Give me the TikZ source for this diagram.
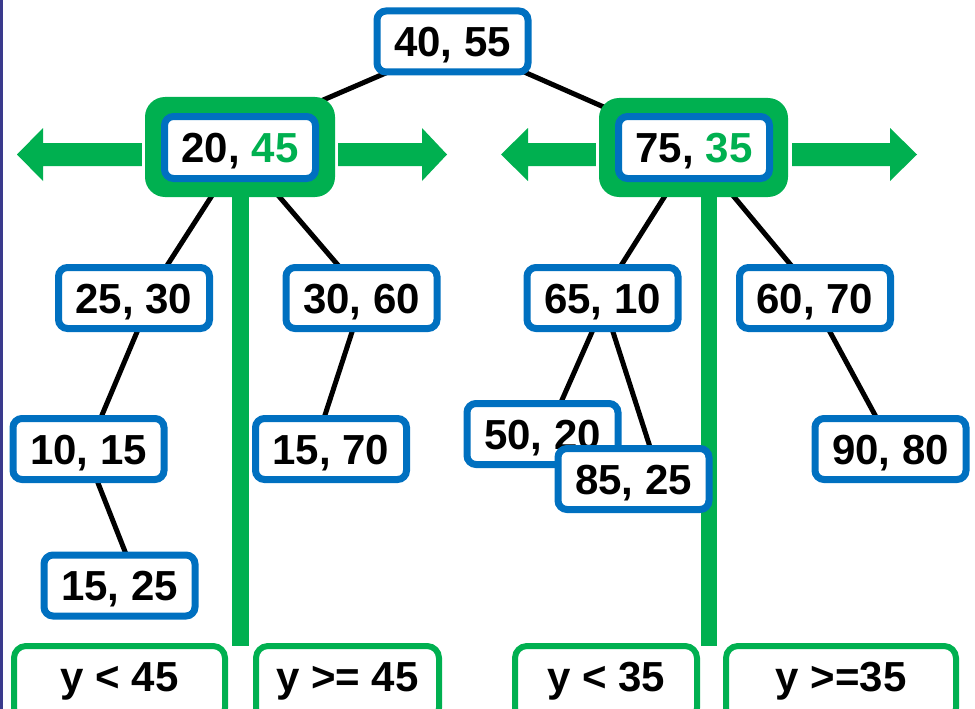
\documentclass[tikz,border=0pt]{standalone}
\usepackage{fontspec}
\setmainfont{Liberation Sans}
\usetikzlibrary{calc}
\definecolor{kgreen}{HTML}{00B050}
\definecolor{kblue}{HTML}{0070C0}
\definecolor{kpurple}{HTML}{3A3A8C}
\pgfdeclarelayer{bg}
\pgfdeclarelayer{mid}
\pgfsetlayers{bg,mid,main}
\begin{document}
\begin{tikzpicture}[x=1pt,y=-1pt,
  kd/.style={draw=kblue, line width=7pt, fill=white, rounded corners=9pt,
    minimum width=151pt, minimum height=61pt, inner sep=0pt,
    font=\fontsize{42}{50}\selectfont\bfseries, text height=30pt, text depth=0pt},
  gbox/.style={fill=kgreen, rounded corners=20pt, inner sep=0pt},
  bl/.style={draw=kgreen, line width=6pt, fill=white, rounded corners=12pt,
    minimum height=74pt, inner sep=0pt,
    font=\fontsize{42}{50}\selectfont\bfseries, text height=30pt, text depth=13pt},
  edge/.style={draw=black, line width=5pt, shorten <=-8pt, shorten >=-8pt},
  garrow/.style={fill=kgreen}]
\useasboundingbox (0,0) rectangle (975,709);
\clip (0,0) rectangle (975,709);
\fill[kpurple] (0,0) rectangle (3,709);

% green split boxes
\node[gbox, minimum width=190pt, minimum height=100pt] (g1) at (240,147) {};
\node[gbox, minimum width=189pt, minimum height=99pt] (g2) at (693.5,147.5) {};

% tree nodes
\node[kd] (root) at (452.5,41.5) {40, 55};
\node[kd, minimum height=62pt] (n2045) at (240,147.5) {20, \textcolor{kgreen}{45}};
\node[kd, minimum height=62pt] (n7535) at (694,147.5) {75, \textcolor{kgreen}{35}};
\node[kd] (n2530) at (134,298) {25, 30};
\node[kd] (n3060) at (361.5,298) {30, 60};
\node[kd] (n6510) at (602.5,298) {65, 10};
\node[kd] (n6070) at (815,298) {60, 70};
\node[kd] (n1015) at (88.5,449) {10, 15};
\node[kd] (n1570) at (331,449) {15, 70};
\node[kd] (n9080) at (890.5,449) {90, 80};
\node[kd] (n5020) at (542.5,434) {50, 20};
\node[kd] (n8525) at (633.5,479) {85, 25};
\node[kd] (n1525) at (119.5,585.5) {15, 25};

% bottom labels
\node[bl, minimum width=211pt] (b1) at (119.5,683) {y < 45};
\node[bl, minimum width=183pt] (b2) at (347.5,683) {y >= 45};
\node[bl, minimum width=182pt] (b3) at (606,683) {y < 35};
\node[bl, minimum width=230pt] (b4) at (841,683) {y >=35};

\begin{pgfonlayer}{bg}
  % arrows
  \fill[garrow] ($(g1.west)+(-3,-4)$) -- (43,143) -- (43,128) -- (17,154.5) -- (43,181) -- (43,166) -- ($(g1.west)+(-3,19)$) -- cycle;
  \fill[garrow] ($(g1.east)+(3,-4)$) -- (422,143) -- (422,128) -- (447,154.5) -- (422,181) -- (422,166) -- ($(g1.east)+(3,19)$) -- cycle;
  \fill[garrow] ($(g2.west)+(-3,-4.5)$) -- (528,143) -- (528,128) -- (501,154.5) -- (528,181) -- (528,166) -- ($(g2.west)+(-3,18.5)$) -- cycle;
  \fill[garrow] ($(g2.east)+(4,-4.5)$) -- (890,143) -- (890,128) -- (917,154.5) -- (890,181) -- (890,166) -- ($(g2.east)+(4,18.5)$) -- cycle;
  % split bars
  \fill[kgreen] ($(g1.south)+(-8,-2)$) rectangle ($(b1.north east)!0.5!(b2.north west)+(8,3)$);
  \fill[kgreen] ($(g2.south)+(7.5,-2)$) rectangle (717,646);
\end{pgfonlayer}

\begin{pgfonlayer}{mid}
  \path[edge] ($(root.south)+(-72.5,0)$) -- ($(n2045.north)+(53,0)$);
  \path[edge] ($(root.south)+(70.5,-4)$) -- ($(n7535.north)+(-72,2)$);
  \path[edge] ($(n2045.south)+(-18,-2)$) -- ($(n2530.north)+(34,0)$);
  \path[edge] ($(n2045.south)+(25,-2)$) -- ($(n3060.north)+(-24.5,0)$);
  \path[edge] ($(n2530.south)+(3,0)$) -- ($(n1015.north)+(13.5,0)$);
  \path[edge] ($(n1015.south)+(9.5,0)$) -- ($(n1525.north)+(5.5,0)$);
  \path[edge] ($(n3060.south)+(-9.5,0)$) -- ($(n1570.north)+(-6,0)$);
  \path[edge] ($(n7535.south)+(-19,-2)$) -- ($(n6510.north)+(19.5,0)$);
  \path[edge] ($(n7535.south)+(26,-2)$) -- ($(n6070.north)+(-25,0)$);
  \path[edge] ($(n6510.south)+(-10.5,0)$) -- ($(n5020.north)+(19.5,0)$);
  \path[edge] ($(n6510.south)+(10.5,0)$) -- ($(n8525.north)+(16.5,2)$);
  \path[edge] ($(n6070.south)+(15,0)$) -- ($(n9080.north)+(-15.5,0)$);
\end{pgfonlayer}
\end{tikzpicture}
\end{document}
